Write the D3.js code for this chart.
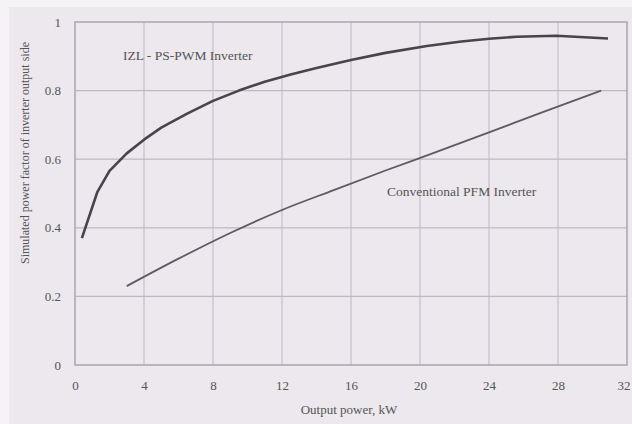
<!DOCTYPE html>
<html>
<head>
<meta charset="utf-8">
<script src="https://cdn.jsdelivr.net/npm/d3@7"></script>
<style>
  body { margin: 0; background: #f5f3f6; }
  svg { display: block; }
  text { font-family: "Liberation Serif", "DejaVu Serif", serif; fill: #555; }
</style>
</head>
<body>
<div id="chart"></div>
<script>
// Output power (kW) and simulated power factor
const izlPower = [0.4, 1.3, 2, 3, 4, 5, 6.5, 8, 9.5, 11, 12.5, 14, 16, 18, 20.4, 22.4, 24, 25.6, 27.9, 30.9];
const izlPf = [0.37, 0.505, 0.566, 0.617, 0.657, 0.692, 0.733, 0.77, 0.8, 0.826, 0.847, 0.866, 0.889, 0.91, 0.93, 0.943, 0.951, 0.957, 0.96, 0.952];
const convPower = [3, 6, 9, 12, 15, 18, 21, 24, 27, 30.5];
const convPf = [0.23, 0.31, 0.385, 0.452, 0.51, 0.567, 0.622, 0.678, 0.735, 0.80];
const xTicks = [0, 4, 8, 12, 16, 20, 24, 28, 32];
const yTicks = [0, 0.2, 0.4, 0.6, 0.8, 1];

const width = 632, height = 424;
const margin = { top: 22, right: 5, bottom: 59, left: 75 };

const svg = d3.select('#chart').append('svg')
  .attr('width', width)
  .attr('height', height);

// scanned paper tone
svg.append('rect')
  .attr('x', 9).attr('y', 7)
  .attr('width', width - 9).attr('height', height - 7)
  .attr('fill', '#ece8ee');

const x = d3.scaleLinear().domain([0, 32]).range([margin.left, width - margin.right]);
const y = d3.scaleLinear().domain([0, 1]).range([height - margin.bottom, margin.top]);

// grid
svg.append('g')
  .selectAll('line')
  .data(xTicks.slice(1, -1))
  .join('line')
  .attr('x1', d => x(d)).attr('x2', d => x(d))
  .attr('y1', y(0)).attr('y2', y(1))
  .attr('stroke', '#c4c0c8').attr('stroke-width', 1.2);

svg.append('g')
  .selectAll('line')
  .data(yTicks.slice(1, -1))
  .join('line')
  .attr('x1', x(0)).attr('x2', x(32))
  .attr('y1', d => y(d)).attr('y2', d => y(d))
  .attr('stroke', '#bdb9c1').attr('stroke-width', 1.2);

// plot frame
svg.append('rect')
  .attr('x', x(0)).attr('y', y(1))
  .attr('width', x(32) - x(0)).attr('height', y(0) - y(1))
  .attr('fill', 'none')
  .attr('stroke', '#a9a5ad').attr('stroke-width', 1.5);

// axes (labels only, frame drawn above)
const xAxis = svg.append('g')
  .attr('transform', `translate(0,${y(0)})`)
  .call(d3.axisBottom(x).tickValues(xTicks).tickSize(0).tickPadding(16).tickFormat(d3.format('d')));
xAxis.select('.domain').remove();
xAxis.selectAll('text').style('font-size', '13px').attr('fill', '#555');
// last label sits at the page edge in the scan; keep it inside
xAxis.selectAll('.tick').filter(d => d === 32).select('text')
  .attr('text-anchor', 'end').attr('dx', '3');

const yAxis = svg.append('g')
  .attr('transform', `translate(${x(0)},0)`)
  .call(d3.axisLeft(y).tickValues(yTicks).tickSize(0).tickPadding(14)
    .tickFormat(d => d === 0 || d === 1 ? d3.format('d')(d) : d3.format('.1f')(d)));
yAxis.select('.domain').remove();
yAxis.selectAll('text').style('font-size', '13px').attr('fill', '#555');

// series
const line = d3.line()
  .x(d => x(d[0]))
  .y(d => y(d[1]));

svg.append('path')
  .datum(izlPower.map((p, i) => [p, izlPf[i]]))
  .attr('d', line)
  .attr('fill', 'none')
  .attr('stroke', '#47444b').attr('stroke-width', 2.6)
  .attr('stroke-linejoin', 'round');

svg.append('path')
  .datum(convPower.map((p, i) => [p, convPf[i]]))
  .attr('d', line.curve(d3.curveMonotoneX))
  .attr('fill', 'none')
  .attr('stroke', '#5e5a62').attr('stroke-width', 1.8);

// series labels
svg.append('text')
  .attr('x', 123).attr('y', 60)
  .style('font-size', '13.5px')
  .attr('fill', '#3f3c42')
  .text('IZL - PS-PWM Inverter');

svg.append('text')
  .attr('x', 387).attr('y', 196)
  .style('font-size', '13.5px')
  .attr('fill', '#3f3c42')
  .text('Conventional PFM Inverter');

// axis titles
svg.append('text')
  .attr('x', 349).attr('y', 414)
  .attr('text-anchor', 'middle')
  .style('font-size', '13px')
  .text('Output power, kW');

svg.append('text')
  .attr('transform', 'translate(29,153) rotate(-90)')
  .attr('text-anchor', 'middle')
  .style('font-size', '12px')
  .text('Simulated power factor of inverter output side');
</script>
</body>
</html>
